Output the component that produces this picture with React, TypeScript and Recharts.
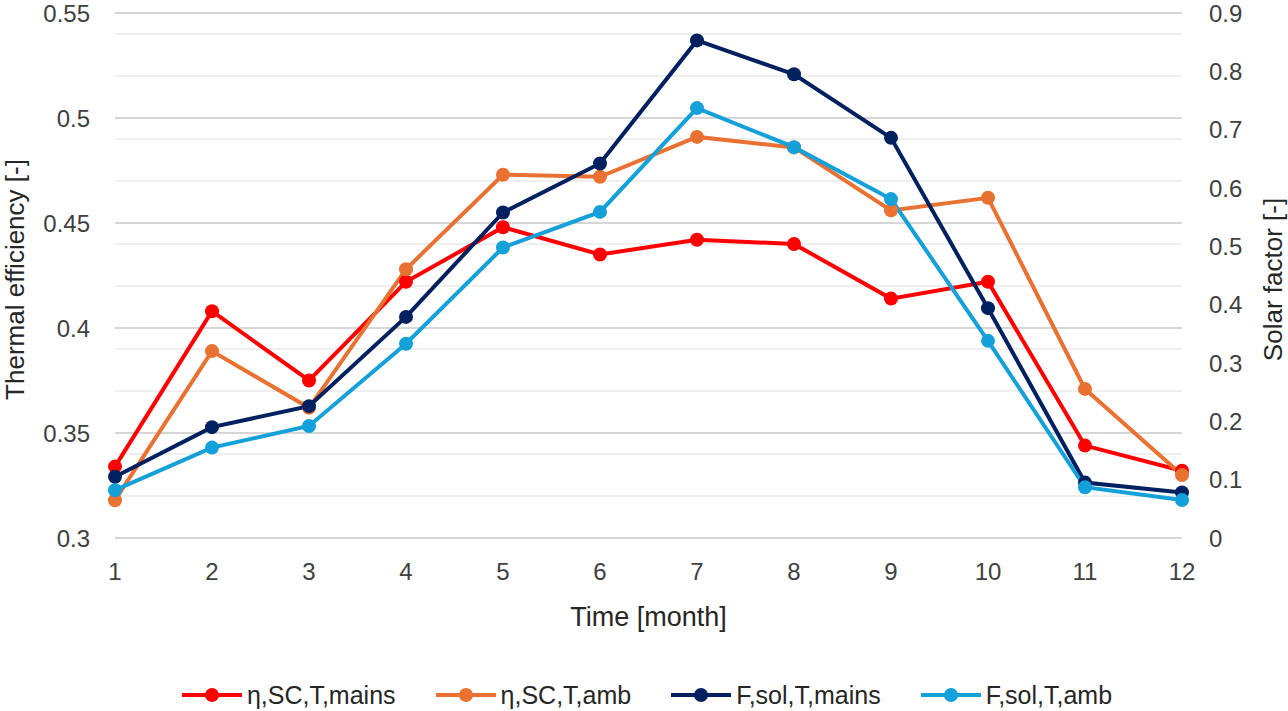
import React from 'react';
import { LineChart, Line, XAxis, YAxis, CartesianGrid, Legend, Label } from 'recharts';

const months = [1, 2, 3, 4, 5, 6, 7, 8, 9, 10, 11, 12];
const etaMains = [0.334, 0.408, 0.375, 0.422, 0.448, 0.435, 0.442, 0.44, 0.414, 0.422, 0.344, 0.332];
const etaAmb = [0.318, 0.389, 0.362, 0.428, 0.473, 0.472, 0.491, 0.486, 0.456, 0.462, 0.371, 0.33];
const fSolMains = [0.105, 0.19, 0.226, 0.379, 0.558, 0.642, 0.853, 0.795, 0.686, 0.394, 0.095, 0.078];
const fSolAmb = [0.082, 0.155, 0.192, 0.333, 0.498, 0.559, 0.737, 0.67, 0.581, 0.338, 0.087, 0.065];

const leftTicks = [0.3, 0.35, 0.4, 0.45, 0.5, 0.55];
const rightTicks = [0, 0.1, 0.2, 0.3, 0.4, 0.5, 0.6, 0.7, 0.8, 0.9];
const minorValues = [
  0.31, 0.32, 0.33, 0.34, 0.36, 0.37, 0.38, 0.39, 0.41, 0.42, 0.43, 0.44,
  0.46, 0.47, 0.48, 0.49, 0.51, 0.52, 0.53, 0.54,
];

const seriesNames = ['η,SC,T,mains', 'η,SC,T,amb', 'F,sol,T,mains', 'F,sol,T,amb'];
const seriesKeys = ['etaMains', 'etaAmb', 'fSolMains', 'fSolAmb'];
const seriesColors = ['#FF0000', '#E97132', '#002060', '#14A0D8'];
const seriesAxis = ['left', 'left', 'right', 'right'];

const data = months.map((m, i) => ({
  month: m,
  etaMains: etaMains[i],
  etaAmb: etaAmb[i],
  fSolMains: fSolMains[i],
  fSolAmb: fSolAmb[i],
}));

const FONT = '"Liberation Sans", Arial, sans-serif';

const LegendContent = () => {
  return (
    <div
      style={{
        display: 'flex',
        justifyContent: 'center',
        alignItems: 'center',
        height: 32,
        paddingLeft: 6,
        fontFamily: FONT,
        fontSize: 25,
        color: '#262626',
      }}
    >
      {seriesNames.map((name, i) => (
        <div key={name} style={{ display: 'flex', alignItems: 'center', marginRight: i < seriesNames.length - 1 ? 40 : 0 }}>
          <svg width={60} height={18} style={{ marginRight: 5 }}>
            <line x1={0} y1={9} x2={60} y2={9} stroke={seriesColors[i]} strokeWidth={4} />
            <circle cx={30} cy={9} r={7} fill={seriesColors[i]} />
          </svg>
          <span>{name}</span>
        </div>
      ))}
    </div>
  );
};

export default function App() {
  return (
    <div style={{ position: 'absolute', left: 0, top: 0, width: 1288, height: 711, background: '#fff' }}>
      <LineChart
        width={1288}
        height={711}
        data={data}
        margin={{ top: 13, right: 0, bottom: 0, left: 0 }}
        style={{ fontFamily: FONT }}
      >
        <CartesianGrid
          yAxisId="left"
          vertical={false}
          horizontalValues={minorValues}
          stroke="#efefef"
          strokeWidth={2}
        />
        <CartesianGrid
          yAxisId="left"
          vertical={false}
          horizontalValues={leftTicks}
          stroke="#d6d6d6"
          strokeWidth={2}
        />
        <XAxis
          dataKey="month"
          height={141}
          axisLine={false}
          tickLine={false}
          tickSize={0}
          tickMargin={25}
          tick={{ fill: '#404040', fontSize: 24 }}
          interval={0}
        >
          <Label
            content={(p: any) => {
              const vb = p.viewBox || {};
              return (
                <text
                  x={vb.x + vb.width / 2}
                  y={617}
                  textAnchor="middle"
                  dominantBaseline="central"
                  fill="#262626"
                  fontSize={27}
                  fontFamily={FONT}
                >
                  Time [month]
                </text>
              );
            }}
          />
        </XAxis>
        <YAxis
          yAxisId="left"
          orientation="left"
          width={115}
          domain={[0.3, 0.55]}
          ticks={leftTicks}
          axisLine={false}
          tickLine={false}
          tickSize={0}
          tickMargin={25}
          tick={{ fill: '#404040', fontSize: 24 }}
          allowDataOverflow
        >
          <Label
            content={(p: any) => {
              const vb = p.viewBox || {};
              const cx = vb.x + 15;
              const cy = vb.y + vb.height / 2 + 4;
              return (
                <text
                  transform={`translate(${cx},${cy}) rotate(-90)`}
                  textAnchor="middle"
                  dominantBaseline="central"
                  fill="#262626"
                  fontSize={26}
                  fontFamily={FONT}
                >
                  Thermal efficiency [-]
                </text>
              );
            }}
          />
        </YAxis>
        <YAxis
          yAxisId="right"
          orientation="right"
          width={106}
          domain={[0, 0.9]}
          ticks={rightTicks}
          axisLine={false}
          tickLine={false}
          tickSize={0}
          tickMargin={27}
          tick={{ fill: '#404040', fontSize: 24 }}
          allowDataOverflow
        >
          <Label
            content={(p: any) => {
              const vb = p.viewBox || {};
              const cx = vb.x + 91;
              const cy = vb.y + vb.height / 2 + 4;
              return (
                <text
                  transform={`translate(${cx},${cy}) rotate(-90)`}
                  textAnchor="middle"
                  dominantBaseline="central"
                  fill="#262626"
                  fontSize={26}
                  fontFamily={FONT}
                >
                  Solar factor [-]
                </text>
              );
            }}
          />
        </YAxis>
        {seriesKeys.map((k, i) => (
          <Line
            key={k}
            yAxisId={seriesAxis[i]}
            type="linear"
            dataKey={k}
            name={seriesNames[i]}
            stroke={seriesColors[i]}
            strokeWidth={4}
            dot={{ r: 7, fill: seriesColors[i], stroke: seriesColors[i], strokeWidth: 0 }}
            activeDot={false}
            isAnimationActive={false}
            zIndex={400 + i}
          />
        ))}
        <Legend verticalAlign="bottom" align="center" content={LegendContent} />
      </LineChart>
    </div>
  );
}
